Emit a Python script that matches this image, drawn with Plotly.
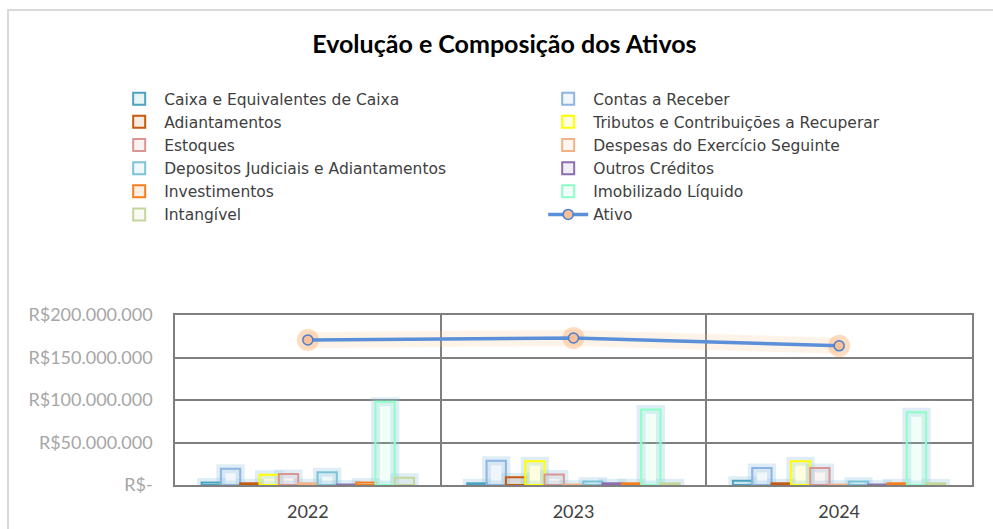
import plotly.graph_objects as go

anos = ["2022", "2023", "2024"]

caixa = [3.0e6, 2.0e6, 5.0e6]
contas_receber = [19.0e6, 28.5e6, 20.0e6]
adiantamentos = [2.0e6, 9.0e6, 2.0e6]
tributos = [12.0e6, 28.0e6, 28.0e6]
estoques = [13.0e6, 12.5e6, 20.0e6]
despesas = [2.0e6, 0.5e6, 0.5e6]
depositos = [15.0e6, 4.0e6, 4.0e6]
outros = [0.5e6, 2.0e6, 0.5e6]
investimentos = [3.0e6, 2.0e6, 2.0e6]
imobilizado = [98.0e6, 88.7e6, 85.5e6]
intangivel = [8.5e6, 2.0e6, 2.0e6]
ativo = [170.7e6, 173.0e6, 163.7e6]

y_tickvals = [0, 50e6, 100e6, 150e6, 200e6]
y_ticktext = ["R$-", "R$50.000.000", "R$100.000.000", "R$150.000.000", "R$200.000.000"]

series = [
    ("Caixa e Equivalentes de Caixa", caixa, (75, 163, 192)),
    ("Contas a Receber", contas_receber, (141, 180, 226)),
    ("Adiantamentos", adiantamentos, (197, 90, 17)),
    ("Tributos e Contribuições a Recuperar", tributos, (255, 255, 0)),
    ("Estoques", estoques, (218, 150, 148)),
    ("Despesas do Exercício Seguinte", despesas, (244, 177, 131)),
    ("Depositos Judiciais e Adiantamentos", depositos, (125, 195, 215)),
    ("Outros Créditos", outros, (140, 110, 175)),
    ("Investimentos", investimentos, (245, 125, 30)),
    ("Imobilizado Líquido", imobilizado, (140, 255, 200)),
    ("Intangível", intangivel, (196, 215, 155)),
]

FONT = "Lato"
LEG_FONT = "DejaVu Sans"
fig = go.Figure()

# glow traces behind bars
for name, vals, (r, g, b) in series:
    fig.add_trace(go.Bar(
        x=anos, y=vals, offsetgroup=name, showlegend=False, hoverinfo="skip",
        marker=dict(color="rgba(0,0,0,0)",
                    line=dict(color="rgba(150,200,225,0.3)", width=9)),
    ))

for name, vals, (r, g, b) in series:
    fig.add_trace(go.Bar(
        x=anos, y=vals, name=name, offsetgroup=name,
        marker=dict(color=f"rgba({r},{g},{b},0.12)",
                    line=dict(color=f"rgb({r},{g},{b})", width=2)),
    ))

# glow of line
fig.add_trace(go.Scatter(
    x=anos, y=ativo, mode="lines", showlegend=False, hoverinfo="skip",
    line=dict(color="rgba(250,190,130,0.18)", width=16),
))
fig.add_trace(go.Scatter(
    x=anos, y=ativo, mode="markers", showlegend=False, hoverinfo="skip",
    marker=dict(size=22, color="rgba(250,170,100,0.4)"),
))
fig.add_trace(go.Scatter(
    x=anos, y=ativo, name="Ativo", mode="lines+markers",
    line=dict(color="#5b8fd9", width=3.5),
    marker=dict(size=10, color="#f9c09a", line=dict(color="#4a7fcf", width=1.5)),
))

fig.update_layout(
    width=993, height=529,
    paper_bgcolor="white", plot_bgcolor="white",
    margin=dict(l=175, r=21, t=315, b=44),
    barmode="group", bargap=0.2, bargroupgap=0,
    font=dict(family=FONT, size=18, color="#404040"),
    title=dict(text="<b>Evolução e Composição dos Ativos</b>", x=0.508, xref="container",
               xanchor="center", y=1 - 44 / 529, yref="container", yanchor="middle",
               font=dict(family=FONT, size=25, color="#000000")),
    legend=dict(orientation="h", x=-0.0763, xanchor="left", y=2.37, yanchor="top",
                entrywidth=374, traceorder="normal",
                font=dict(family=LEG_FONT, size=15.5, color="#404040"),
                itemwidth=40, tracegroupgap=0),
    showlegend=True,
    xaxis=dict(type="category", tickson="boundaries", showgrid=True, automargin=False,
               gridcolor="#7f7f7f", gridwidth=1.5, showline=True, linecolor="#7f7f7f",
               linewidth=1.5, mirror=True, ticks="", ticklabelstandoff=10,
               tickfont=dict(family=FONT, size=18, color="#404040")),
    yaxis=dict(range=[0, 200e6], tickvals=y_tickvals, ticktext=y_ticktext, automargin=False,
               showgrid=True, gridcolor="#7f7f7f", gridwidth=1.5, showline=True,
               linecolor="#7f7f7f", linewidth=1.5, mirror=True, zeroline=False,
               ticklabelstandoff=17,
               tickfont=dict(family=FONT, size=18, color="#a6a6a6")),
    shapes=[dict(type="rect", xref="paper", yref="paper",
                 x0=(8 - 175) / 797, x1=(1010 - 175) / 797,
                 y0=(485 - 560) / 170, y1=(485 - 10) / 170,
                 line=dict(color="#d9d9d9", width=2), fillcolor="rgba(0,0,0,0)", layer="below")],
)

fig.write_html("out.html", config={"displayModeBar": False},
               post_script="document.body.style.margin='0';document.body.style.overflow='hidden';")
